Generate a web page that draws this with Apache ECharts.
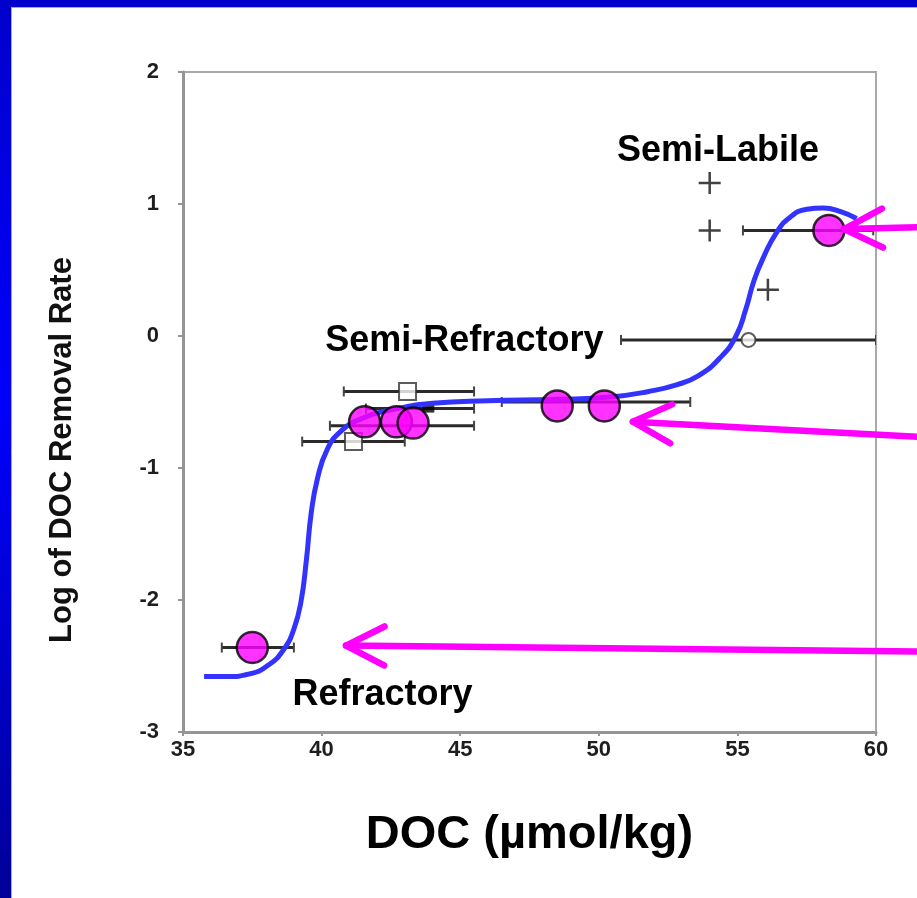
<!DOCTYPE html>
<html><head><meta charset="utf-8">
<script src="https://cdn.jsdelivr.net/npm/echarts@6/dist/echarts.min.js"></script>
<style>html,body{margin:0;padding:0;background:#fff}#c{width:917px;height:898px}</style>
</head><body><div id="c"></div>
<script>
// ---- data ----
const xTicks = [35, 40, 45, 50, 55, 60];
const yTicks = [-3, -2, -1, 0, 1, 2];
const highlightX = [37.5, 41.55, 42.7, 43.3, 48.5, 50.2, 58.3];
const highlightY = [-2.36, -0.65, -0.65, -0.66, -0.53, -0.53, 0.80];
const plusX = [54.0, 54.0, 56.1];
const plusY = [1.16, 0.80, 0.35];
const openCircleX = [55.4];
const openCircleY = [-0.03];
const openSquareX = [43.1, 41.15];
const openSquareY = [-0.42, -0.80];
const filledSquareX = [43.85];
const filledSquareY = [-0.55];
const errY    = [-2.36, -0.42, -0.55, -0.68, -0.80, -0.50, -0.03, 0.80];
const errLow  = [36.4, 40.8, 41.6, 40.3, 39.3, 46.5, 50.8, 55.2];
const errHigh = [39.0, 45.5, 45.5, 45.5, 43.0, 53.3, 60.0, 59.9];
const curveX = [35.76, 36.6, 37.4, 38.1, 38.65, 39.0, 39.25, 39.45, 39.62, 39.85, 40.2, 40.7, 41.4, 42.5, 44.0, 46.0, 48.5, 50.5, 51.8, 52.8, 53.6, 54.4, 54.95, 55.3, 55.6, 55.95, 56.4, 56.9, 57.5, 58.1, 58.75, 59.3];
const curveY = [-2.58, -2.58, -2.56, -2.49, -2.37, -2.22, -2.02, -1.7, -1.35, -1.08, -0.86, -0.72, -0.63, -0.56, -0.51, -0.49, -0.48, -0.46, -0.42, -0.37, -0.30, -0.16, 0.0, 0.2, 0.42, 0.6, 0.78, 0.9, 0.96, 0.97, 0.94, 0.89];
const zoneLabels = ['Semi-Labile', 'Semi-Refractory', 'Refractory'];
const zoneLabelX = [54.3, 45.15, 42.2];
const zoneLabelY = [1.40, -0.04, -2.72];
// arrows: tip and tail (data coordinates)
const arrowTipX = [58.85, 51.23, 40.88];
const arrowTipY = [0.81, -0.65, -2.345];
const arrowTailX = [61.6, 61.6, 61.6];
const arrowTailY = [0.825, -0.765, -2.39];

const FONT = '"Liberation Sans", Arial, Helvetica, sans-serif';
const zip = (a, b) => a.map((v, i) => [v, b[i]]);

const chart = echarts.init(document.getElementById('c'), null, {renderer: 'canvas'});

const plusPath = 'path://M-10,0L10,0M0,-10L0,10';

const option = {
  backgroundColor: '#ffffff',
  animation: false,
  grid: {left: 183, right: 41, top: 72, bottom: 166, show: true, borderColor: '#a8a8a8', borderWidth: 2, backgroundColor: 'transparent'},
  xAxis: {
    type: 'value', min: 35, max: 60, interval: 5,
    name: 'DOC (µmol/kg)', nameLocation: 'middle', nameGap: 80,
    nameTextStyle: {fontFamily: FONT, fontWeight: 'bold', fontSize: 47, color: '#000'},
    axisLine: {onZero: false, lineStyle: {color: '#959595', width: 3}},
    axisTick: {show: true, length: 4, lineStyle: {color: '#959595', width: 2}},
    splitLine: {show: false},
    axisLabel: {fontFamily: FONT, fontWeight: 'bold', fontSize: 22, color: '#1e1e1e', margin: 7,
      formatter: v => xTicks.includes(v) ? String(v) : ''}
  },
  yAxis: {
    type: 'value', min: -3, max: 2, interval: 1,
    axisLine: {onZero: false, lineStyle: {color: '#959595', width: 3}},
    axisTick: {show: true, length: 5, lineStyle: {color: '#959595', width: 2}},
    splitLine: {show: false},
    axisLabel: {fontFamily: FONT, fontWeight: 'bold', fontSize: 22, color: '#1e1e1e', margin: 24,
      formatter: v => yTicks.includes(v) ? String(v) : ''}
  },
  series: [
    {
      type: 'custom', name: 'errorbars', clip: true, z: 2,
      data: errY.map((y, i) => [errLow[i], errHigh[i], y]),
      renderItem: (params, api) => {
        const lo = api.coord([api.value(0), api.value(2)]);
        const hi = api.coord([api.value(1), api.value(2)]);
        const st = {stroke: '#2a2a2a', lineWidth: 3};
        return {type: 'group', children: [
          {type: 'line', shape: {x1: lo[0], y1: lo[1], x2: hi[0], y2: hi[1]}, style: st},
          {type: 'line', shape: {x1: lo[0], y1: lo[1] - 5, x2: lo[0], y2: lo[1] + 5}, style: {stroke: '#444', lineWidth: 2}},
          {type: 'line', shape: {x1: hi[0], y1: hi[1] - 5, x2: hi[0], y2: hi[1] + 5}, style: {stroke: '#444', lineWidth: 2}}
        ]};
      }
    },
    {type: 'scatter', name: 'plus', data: zip(plusX, plusY), symbol: plusPath, symbolSize: 22, z: 3,
      itemStyle: {color: 'none', borderColor: '#111', borderWidth: 2.5}},
    {type: 'scatter', name: 'open circle', data: zip(openCircleX, openCircleY), symbol: 'circle', symbolSize: 14, z: 3,
      itemStyle: {color: '#fff', borderColor: '#333', borderWidth: 2}},
    {type: 'scatter', name: 'open square', data: zip(openSquareX, openSquareY), symbol: 'rect', symbolSize: 17, z: 3,
      itemStyle: {color: '#fff', borderColor: '#333', borderWidth: 2}},
    {type: 'scatter', name: 'filled square', data: zip(filledSquareX, filledSquareY), symbol: 'rect', symbolSize: [12, 8], z: 3,
      itemStyle: {color: '#000'}},
    {type: 'line', name: 'fit', data: zip(curveX, curveY), showSymbol: false, smooth: 0.5, z: 4,
      lineStyle: {color: '#3333ff', width: 5}},
    {type: 'scatter', name: 'highlight', data: zip(highlightX, highlightY), symbol: 'circle', symbolSize: 31, z: 5,
      itemStyle: {color: '#ff00ff', borderColor: '#000', borderWidth: 2.5}}
  ]
};
chart.setOption(option);

function buildGraphics() {
  const g = [];
  // slide frame
  g.push({type: 'rect', shape: {x: 0, y: 0, width: 917, height: 7}, style: {fill: '#0000cc'}, z: 100});
  g.push({type: 'rect', shape: {x: 0, y: 0, width: 11, height: 898}, z: 100,
    style: {fill: new echarts.graphic.LinearGradient(0, 0, 0, 1, [
      {offset: 0, color: '#0000cc'}, {offset: 0.45, color: '#0000ff'}, {offset: 1, color: '#000099'}])}});
  g.push({type: 'line', shape: {x1: 11, y1: 7.5, x2: 917, y2: 7.5}, style: {stroke: '#a0a0ff', lineWidth: 1}, z: 100});
  g.push({type: 'line', shape: {x1: 11.5, y1: 7, x2: 11.5, y2: 898}, style: {stroke: '#a0a0ff', lineWidth: 1}, z: 100});
  // y axis title
  g.push({type: 'text', x: 62, y: 450, rotation: Math.PI / 2, z: 50,
    style: {text: 'Log of DOC Removal Rate', fontFamily: FONT, fontWeight: 'bold', fontSize: 31, fill: '#111', align: 'center', verticalAlign: 'middle'}});
  // zone labels
  zoneLabels.forEach((t, i) => {
    const p = chart.convertToPixel({gridIndex: 0}, [zoneLabelX[i], zoneLabelY[i]]);
    g.push({type: 'text', x: p[0], y: p[1], z: 50,
      style: {text: t, fontFamily: FONT, fontWeight: 'bold', fontSize: 36, fill: '#000', align: 'center', verticalAlign: 'middle'}});
  });
  // arrows
  arrowTipX.forEach((_, i) => {
    const tip = chart.convertToPixel({gridIndex: 0}, [arrowTipX[i], arrowTipY[i]]);
    const tail = chart.convertToPixel({gridIndex: 0}, [arrowTailX[i], arrowTailY[i]]);
    const ang = Math.atan2(tail[1] - tip[1], tail[0] - tip[0]);
    const L = 43, a = 0.47;
    const h1 = [tip[0] + L * Math.cos(ang - a), tip[1] + L * Math.sin(ang - a)];
    const h2 = [tip[0] + L * Math.cos(ang + a), tip[1] + L * Math.sin(ang + a)];
    const st = {stroke: '#ff00ff', lineWidth: 6.5, lineCap: 'round', lineJoin: 'round', fill: null};
    g.push({type: 'polyline', shape: {points: [tail, tip]}, style: st, z: 60});
    g.push({type: 'polyline', shape: {points: [h1, tip, h2]}, style: st, z: 60});
  });
  return g;
}
chart.setOption({graphic: buildGraphics()});
</script>
</body></html>
